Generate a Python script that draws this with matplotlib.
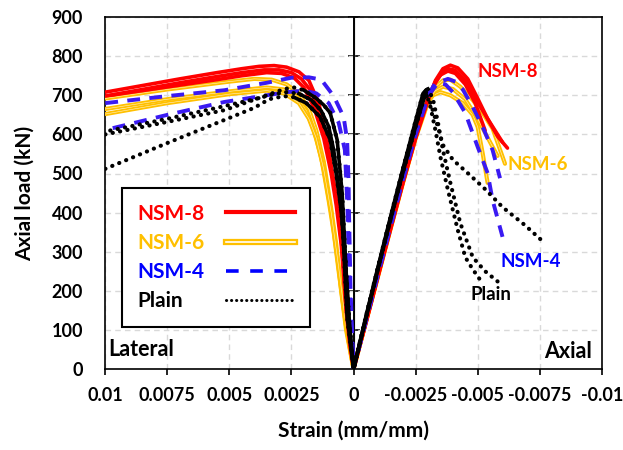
import numpy as np
import matplotlib
matplotlib.use('Agg')
import matplotlib.pyplot as plt
from matplotlib.lines import Line2D
from matplotlib.legend_handler import HandlerTuple

plt.rcParams['font.family'] = ['Lato', 'DejaVu Sans']
plt.rcParams['font.weight'] = 'bold'
plt.rcParams['axes.unicode_minus'] = False

# strain (mm/mm): positive = lateral, negative = axial ; load in kN
# each curve runs from the lateral end, through the origin, to the axial end

# NSM-8
nsm8_a_strain = [0.01, 0.0085, 0.007, 0.0055, 0.0045, 0.0038, 0.0032, 0.0027, 0.0022, 0.0018, 0.0014, 0.0011, 0.0009, 0.0006, 0.00045, 0.0003, 0.00015, 0,
                 -0.0005, -0.001, -0.0015, -0.002, -0.0025, -0.003, -0.0033, -0.0036, -0.0039, -0.0042, -0.0046, -0.005, -0.0054, -0.0058, -0.0062]
nsm8_a_load = [708, 725, 742, 758, 768, 774, 776, 772, 760, 738, 680, 595, 515, 390, 300, 150, 60, 0,
               118, 240, 360, 478, 590, 688, 738, 768, 777, 770, 742, 692, 640, 595, 565]
nsm8_b_strain = [0.01, 0.0085, 0.007, 0.0055, 0.0045, 0.0036, 0.003, 0.0025, 0.0021, 0.0017, 0.0013, 0.001, 0.0008, 0.0006, 0.0004, 0.00025, 0,
                 -0.0005, -0.001, -0.0015, -0.002, -0.0025, -0.003, -0.0033, -0.0036, -0.0038, -0.0041, -0.0045, -0.0049, -0.0054, -0.006]
nsm8_b_load = [698, 715, 732, 748, 758, 765, 765, 758, 742, 710, 640, 555, 480, 400, 290, 140, 0,
               122, 245, 365, 485, 598, 692, 735, 760, 768, 764, 738, 692, 640, 580]
nsm8_c_strain = [0.0098, 0.0085, 0.007, 0.0055, 0.0045, 0.0035, 0.0029, 0.0024, 0.002, 0.0016, 0.0012, 0.0009, 0.0007, 0.0005, 0.0003, 0,
                 -0.0005, -0.001, -0.0015, -0.002, -0.0025, -0.003, -0.0033, -0.0035, -0.0038, -0.0041, -0.0045, -0.0049, -0.0053]
nsm8_c_load = [700, 712, 726, 740, 750, 758, 756, 745, 720, 670, 590, 500, 420, 320, 160, 0,
               120, 242, 362, 480, 592, 690, 732, 752, 762, 756, 728, 680, 610]

# NSM-6
nsm6_a_strain = [0.01, 0.0075, 0.005, 0.004, 0.0033, 0.0027, 0.0022, 0.0018, 0.0015, 0.0012, 0.0009, 0.0007, 0.0005, 0.0003, 0,
                 -0.0005, -0.001, -0.0015, -0.002, -0.0025, -0.003, -0.0033, -0.0036, -0.0039, -0.0043, -0.0048, -0.0052, -0.0056, -0.0061]
nsm6_a_load = [692, 715, 735, 742, 740, 728, 705, 665, 610, 530, 410, 320, 200, 100, 0,
               122, 244, 364, 482, 595, 688, 722, 738, 740, 722, 688, 655, 615, 525]
nsm6_b_strain = [0.01, 0.0075, 0.005, 0.0035, 0.0028, 0.0023, 0.0019, 0.0016, 0.0013, 0.001, 0.0008, 0.0006, 0.0003, 0,
                 -0.0005, -0.001, -0.0015, -0.002, -0.0025, -0.003, -0.0032, -0.0035, -0.0039, -0.0044, -0.0048, -0.005, -0.0052, -0.0054]
nsm6_b_load = [665, 690, 710, 720, 715, 698, 660, 610, 540, 430, 350, 250, 110, 0,
               120, 240, 360, 478, 590, 682, 700, 708, 700, 680, 650, 619, 552, 476]
nsm6_c_strain = [0.01, 0.0075, 0.005, 0.0035, 0.0028, 0.0022, 0.0018, 0.0015, 0.0012, 0.0009, 0.0006, 0.0003, 0,
                 -0.0005, -0.001, -0.0015, -0.002, -0.0025, -0.003, -0.0033, -0.0036, -0.004, -0.0045, -0.005, -0.0055, -0.0058]
nsm6_c_load = [652, 680, 703, 712, 705, 680, 640, 590, 510, 400, 260, 110, 0,
               121, 242, 362, 480, 592, 688, 712, 722, 716, 690, 640, 580, 545]

# NSM-4
nsm4_a_strain = [0.01, 0.0075, 0.0052, 0.0035, 0.0025, 0.0018, 0.0013, 0.0008, 0.0004, 0.00026, 0.0002, 0.00018, 0.00012, 0,
                 -0.0005, -0.001, -0.0015, -0.002, -0.0025, -0.003, -0.0033, -0.0037, -0.004, -0.0045, -0.005, -0.0054, -0.0056, -0.006]
nsm4_a_load = [680, 698, 713, 732, 745, 746, 740, 698, 645, 586, 480, 389, 200, 0,
               124, 248, 370, 490, 602, 700, 732, 728, 708, 655, 568, 501, 432, 338]
nsm4_b_strain = [0.0097, 0.0075, 0.0052, 0.0035, 0.0027, 0.002, 0.0015, 0.001, 0.0006, 0.00035, 0.00025, 0.0002, 0.0001, 0,
                 -0.0005, -0.001, -0.0015, -0.002, -0.0025, -0.003, -0.0034, -0.0038, -0.0041, -0.0044, -0.0048, -0.0052, -0.0056, -0.0059]
nsm4_b_load = [616, 650, 683, 700, 708, 712, 705, 680, 630, 560, 420, 300, 120, 0,
               123, 246, 368, 487, 600, 698, 732, 742, 735, 715, 670, 619, 560, 488]

# Plain
plain_a_strain = [0.01, 0.0075, 0.0052, 0.0035, 0.0028, 0.0024, 0.002, 0.0015, 0.0012, 0.00094, 0.00066, 0.00046, 0.0003, 0.00015, 0,
                  -0.0005, -0.001, -0.0015, -0.002, -0.0025, -0.0028, -0.0029, -0.0031, -0.0033, -0.0035, -0.0038, -0.0042, -0.0045, -0.0048, -0.0051]
plain_a_load = [600, 632, 662, 700, 716, 720, 713, 692, 675, 655, 586, 450, 250, 100, 0,
                135, 265, 392, 515, 635, 705, 712, 670, 610, 542, 458, 355, 286, 255, 228]
plain_b_strain = [0.0098, 0.0075, 0.0055, 0.004, 0.0032, 0.0027, 0.0022, 0.0017, 0.0013, 0.001, 0.0008, 0.00055, 0.00035, 0.0002, 0,
                  -0.0005, -0.001, -0.0015, -0.002, -0.0025, -0.0029, -0.003, -0.0032, -0.0034, -0.0036, -0.0039, -0.0043, -0.0048, -0.0053, -0.0058]
plain_b_load = [610, 640, 668, 690, 703, 708, 704, 688, 660, 620, 560, 440, 300, 140, 0,
                132, 262, 388, 510, 628, 712, 716, 690, 630, 560, 476, 373, 286, 250, 224]
plain_c_strain = [0.01, 0.0075, 0.0052, 0.004, 0.0034, 0.0028, 0.0024, 0.0019, 0.00135, 0.00094, 0.0007, 0.00046, 0.00026, 0,
                  -0.0005, -0.001, -0.0015, -0.002, -0.0025, -0.0029, -0.0031, -0.0034, -0.0036, -0.004, -0.0046, -0.0053, -0.006, -0.0069, -0.0077]
plain_c_load = [512, 578, 637, 668, 690, 698, 695, 680, 645, 586, 500, 389, 133, 0,
                130, 260, 385, 505, 620, 705, 680, 619, 573, 535, 501, 460, 414, 368, 322]

group_labels = ['NSM-8', 'NSM-6', 'NSM-4', 'Plain']
x_ticks = [0.01, 0.0075, 0.005, 0.0025, 0, -0.0025, -0.005, -0.0075, -0.01]
x_tick_labels = ['0.01', '0.0075', '0.005', '0.0025', '0', '-0.0025', '-0.005', '-0.0075', '-0.01']
y_ticks = [0, 100, 200, 300, 400, 500, 600, 700, 800, 900]

RED = '#FF0000'
GOLD = '#FFC000'
BLUE = '#3A1AF2'
BLUE_TXT = '#0000FF'

fig = plt.figure(figsize=(6.23, 4.5), dpi=100)
ax = fig.add_axes([0.169, 0.18, 0.797, 0.782])

# NSM-6 : double line (orange with a thin light core)
for s, p in [(nsm6_a_strain, nsm6_a_load), (nsm6_b_strain, nsm6_b_load), (nsm6_c_strain, nsm6_c_load)]:
    ax.plot(s, p, color=GOLD, lw=3.0, solid_capstyle='round', solid_joinstyle='round', zorder=3)
    ax.plot(s, p, color='#FFF2CC', lw=0.4, zorder=3)

# NSM-8 : solid red
for s, p in [(nsm8_a_strain, nsm8_a_load), (nsm8_b_strain, nsm8_b_load), (nsm8_c_strain, nsm8_c_load)]:
    ax.plot(s, p, color=RED, lw=2.6, solid_capstyle='round', solid_joinstyle='round', zorder=4)

# NSM-4 : dashed blue
for s, p in [(nsm4_a_strain, nsm4_a_load), (nsm4_b_strain, nsm4_b_load)]:
    ax.plot(s, p, color=BLUE, lw=2.8, linestyle=(0, (3.3, 2.4)), dash_capstyle='butt', zorder=5)

# Plain : dotted black, dense (solid looking) on the elastic part
for s, p in [(plain_a_strain, plain_a_load), (plain_b_strain, plain_b_load), (plain_c_strain, plain_c_load)]:
    s = np.array(s)
    p = np.array(p)
    i0 = int(np.where(s == 0)[0][0])
    i_lat = int(np.argmax(p[:i0]))
    i_ax = i0 + int(np.argmax(p[i0:]))
    ax.plot(s, p, color='black', lw=3.0, linestyle=(0, (0.05, 1.75)), dash_capstyle='round', zorder=6)
    ax.plot(s[i_lat + 1:i_ax + 1], p[i_lat + 1:i_ax + 1], color='black', lw=2.6,
            solid_joinstyle='round', zorder=6)

ax.set_xlim(0.01, -0.01)
ax.set_ylim(0, 900)
ax.set_xticks(x_ticks)
ax.set_xticklabels(x_tick_labels)
ax.set_yticks(y_ticks)
ax.tick_params(axis='x', direction='out', length=4, width=1.2, labelsize=13, pad=9)
ax.tick_params(axis='y', length=0, labelsize=13, pad=16)
ax.grid(True, color='#D9D9D9', linestyle=(0, (4, 3)), lw=1.0, zorder=0)
ax.set_axisbelow(True)
for sp in ax.spines.values():
    sp.set_linewidth(1.2)

# vertical axis through zero strain, ticks crossing it
ax.axvline(0, color='black', lw=1.4, zorder=2)
mid = ax.secondary_yaxis(0.5)
mid.set_yticks(y_ticks[1:])
mid.tick_params(direction='inout', length=9, width=1.2, labelleft=False, labelright=False)

ax.set_xlabel('Strain (mm/mm)', fontsize=15, fontweight='bold', labelpad=12)
ax.set_ylabel('Axial load (kN)', fontsize=15, fontweight='bold', labelpad=12)

# labels on the curves
ax.text(-0.005, 760, 'NSM-8', color=RED, fontsize=13.5, ha='left', va='center')
ax.text(-0.0062, 522, 'NSM-6', color=GOLD, fontsize=13.5, ha='left', va='center')
ax.text(-0.0059, 274, 'NSM-4', color=BLUE_TXT, fontsize=13.5, ha='left', va='center')
ax.text(-0.0047, 190, 'Plain', color='black', fontsize=13.5, ha='left', va='center')
ax.text(0.0099, 49, 'Lateral', color='black', fontsize=15.5, ha='left', va='center')
ax.text(-0.0096, 44, 'Axial', color='black', fontsize=15.5, ha='right', va='center')

# legend : text first, line sample after
h8 = Line2D([], [], color=RED, lw=3)
h6 = (Line2D([], [], color=GOLD, lw=4.5), Line2D([], [], color='white', lw=1.2))
h4 = Line2D([], [], color=BLUE_TXT, lw=2.6, linestyle=(0, (3.5, 3.2)))
hp = Line2D([], [], color='black', lw=2.2, linestyle=(0, (0.05, 1.6)), dash_capstyle='round')
leg = ax.legend([h8, h6, h4, hp], group_labels, loc='upper left', bbox_to_anchor=(0.034, 0.514),
                markerfirst=False, fontsize=15, handlelength=3.3, handletextpad=1.0,
                labelspacing=0.44, borderpad=0.75, borderaxespad=0, fancybox=False,
                framealpha=1, edgecolor='black',
                handler_map={tuple: HandlerTuple(ndivide=1)})
leg.get_frame().set_linewidth(1.5)
for t, c in zip(leg.get_texts(), [RED, GOLD, BLUE_TXT, 'black']):
    t.set_color(c)
leg.set_zorder(10)

# left-align the label texts while keeping the line samples in one column
fig.canvas.draw()
renderer = fig.canvas.get_renderer()
widths = [t.get_window_extent(renderer).width for t in leg.get_texts()]
column = leg._legend_handle_box.get_children()[0]
for row, w in zip(column.get_children(), widths):
    row.sep += (max(widths) - w) * 72.0 / fig.dpi

fig.savefig('out.png', dpi=100)
